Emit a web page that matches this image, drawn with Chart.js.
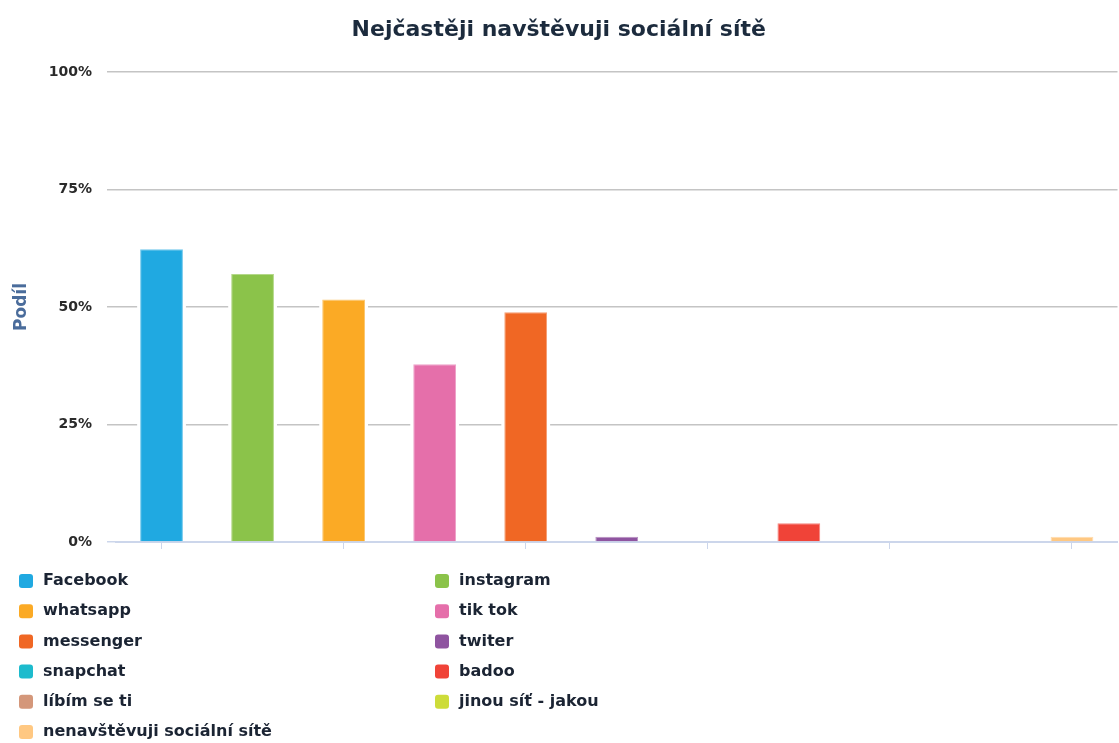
<!DOCTYPE html>
<html>
<head>
<meta charset="utf-8">
<script src="https://cdn.jsdelivr.net/npm/chart.js@4/dist/chart.umd.min.js"></script>
<style>
  html, body { margin: 0; padding: 0; background: #ffffff; }
  #wrap { width: 1119px; height: 743px; position: relative; }
</style>
</head>
<body>
<div id="wrap"><canvas id="c" width="1119" height="743"></canvas></div>
<script>
const categories = ["Facebook", "instagram", "whatsapp", "tik tok", "messenger", "twiter", "snapchat", "badoo", "líbím se ti", "jinou síť - jakou", "nenavštěvuji sociální sítě"];
const shares = [62.3, 57.0, 51.6, 37.8, 48.9, 1.1, 0, 4.0, 0, 0, 1.1];
const colors = ["#20a9e1", "#8bc34a", "#fbaa25", "#e56faa", "#f06724", "#8f54a0", "#1dbbcd", "#f04338", "#d4977a", "#cddc39", "#ffc882"];
const yTicks = [0, 25, 50, 75, 100];
const chartTitle = "Nejčastěji navštěvuji sociální sítě";
const yTitle = "Podíl";

function lighten(hex, f) {
  const n = parseInt(hex.slice(1), 16);
  const r = (n >> 16) & 255, g = (n >> 8) & 255, b = n & 255;
  const m = c => Math.round(c + (255 - c) * f);
  return `rgb(${m(r)},${m(g)},${m(b)})`;
}

const AXIS_BLUE = "#ccd6eb";
const GRID_GRAY = "#c4c4c4";

const haloPlugin = {
  id: "halo",
  beforeDatasetsDraw(chart) {
    const ctx = chart.ctx;
    ctx.save();
    ctx.fillStyle = "#ffffff";
    chart.getDatasetMeta(0).data.forEach(el => {
      const p = el.getProps(["x", "y", "base", "width"], true);
      if (Math.abs(p.base - p.y) < 0.5) return;
      ctx.fillRect(p.x - p.width / 2 - 3, p.y - 2, p.width + 6, p.base - p.y + 1);
    });
    ctx.restore();
  }
};

const legendPlugin = {
  id: "gridLegend",
  afterDraw(chart) {
    const ctx = chart.ctx;
    ctx.save();
    ctx.font = "bold 16px 'DejaVu Sans'";
    ctx.textBaseline = "middle";
    ctx.textAlign = "left";
    categories.forEach((name, i) => {
      const col = i % 2, row = Math.floor(i / 2);
      const x = 19 + col * 416;
      const y = 581 + row * 30.2;
      ctx.fillStyle = colors[i];
      ctx.beginPath();
      ctx.roundRect(x, y - 7, 14, 14, 3);
      ctx.fill();
      ctx.fillStyle = "#1b2433";
      ctx.fillText(name, x + 24, y);
    });
    ctx.restore();
  }
};

new Chart(document.getElementById("c"), {
  type: "bar",
  data: {
    labels: categories,
    datasets: [{
      label: yTitle,
      data: shares,
      backgroundColor: colors,
      borderColor: colors.map(c => lighten(c, 0.35)),
      borderWidth: 1,
      borderSkipped: "start",
      barPercentage: 0.47,
      categoryPercentage: 1.0
    }]
  },
  options: {
    responsive: false,
    animation: false,
    layout: { padding: { top: 0, right: 1.5, bottom: 194, left: 0 } },
    plugins: {
      legend: { display: false },
      tooltip: { enabled: false },
      title: {
        display: true,
        text: chartTitle,
        color: "#1c2b3d",
        font: { family: "'DejaVu Sans'", size: 22, weight: "bold", lineHeight: 1.2 },
        padding: { top: 17, bottom: 28.6 }
      }
    },
    scales: {
      x: {
        offset: true,
        ticks: { display: false },
        grid: {
          offset: false,
          drawOnChartArea: false,
          drawTicks: true,
          tickLength: 7,
          lineWidth: 1,
          color: ctx => (ctx.index % 2 === 0 ? AXIS_BLUE : "rgba(0,0,0,0)")
        },
        border: { display: true, color: AXIS_BLUE, width: 2 }
      },
      y: {
        min: 0,
        max: 100,
        afterBuildTicks: scale => { scale.ticks = yTicks.map(v => ({ value: v })); },
        afterFit: scale => { scale.width = 116; },
        ticks: {
          padding: 15,
          color: "#2a2a2a",
          font: { family: "'DejaVu Sans'", size: 14, weight: "bold" },
          callback: v => v + "%"
        },
        grid: {
          drawTicks: true,
          tickLength: 9,
          lineWidth: 1.5,
          color: ctx => (ctx.tick && ctx.tick.value === 0 ? AXIS_BLUE : GRID_GRAY)
        },
        border: { display: false },
        title: {
          display: true,
          text: yTitle,
          color: "#4a6c9b",
          font: { family: "'DejaVu Sans'", size: 17, weight: "bold" },
          padding: { top: 11, bottom: 0 }
        }
      }
    }
  },
  plugins: [haloPlugin, legendPlugin]
});
</script>
</body>
</html>
